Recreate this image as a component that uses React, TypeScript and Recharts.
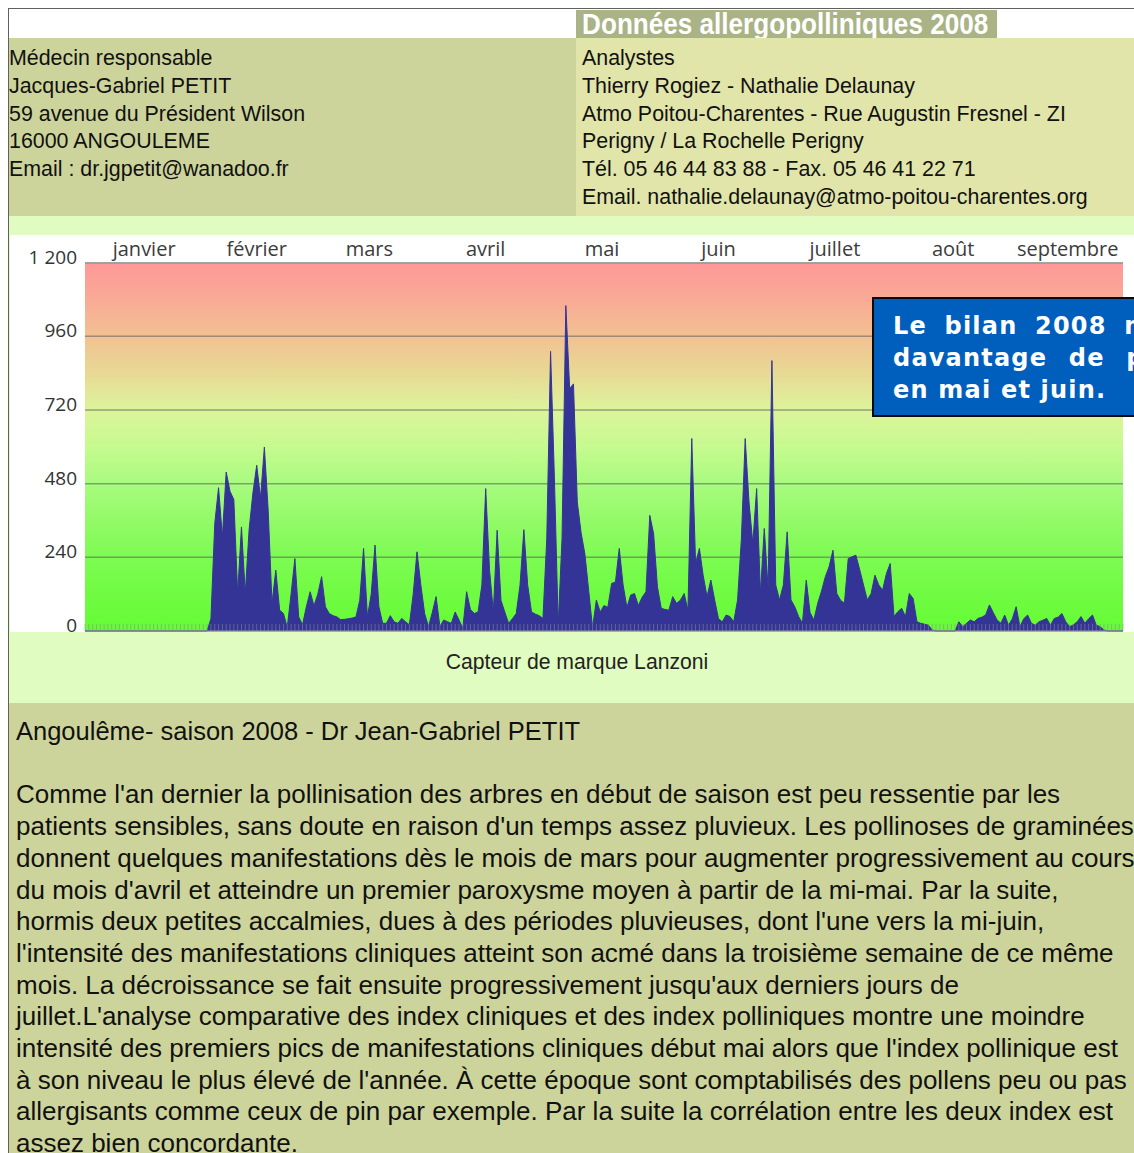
import React from "react";
import { AreaChart, Area, XAxis, YAxis, CartesianGrid, ReferenceArea, ReferenceLine } from "recharts";

// daily pollen index, Jan 1 -> Sep 30 (one array per month)
const jan = [0, 0, 0, 0, 0, 0, 0, 0, 0, 0, 0, 0, 0, 0, 0, 0, 0, 0, 0, 0, 0, 0, 0, 0, 0, 0, 0, 0, 0, 0, 0];
const feb = [0, 0, 40, 350, 467, 307, 518, 455, 428, 122, 339, 122, 330, 450, 540, 433, 599, 393, 90, 198, 68, 57, 12, 120, 236, 46, 20, 79];
const mar = [128, 82, 120, 177, 79, 57, 50, 46, 37, 38, 40, 42, 46, 100, 269, 46, 120, 280, 80, 25, 25, 50, 30, 25, 41, 30, 20, 120, 258, 150, 57];
const apr = [14, 60, 112, 14, 36, 30, 25, 62, 36, 8, 128, 70, 57, 62, 150, 464, 200, 62, 328, 100, 62, 25, 40, 57, 150, 330, 150, 62, 55, 50];
const may = [41, 300, 911, 500, 20, 300, 1060, 790, 805, 420, 320, 250, 130, 10, 101, 62, 83, 77, 155, 160, 269, 150, 77, 117, 122, 83, 110, 128, 377, 317, 144];
const jun = [74, 70, 68, 112, 90, 100, 122, 68, 627, 220, 269, 180, 112, 166, 101, 40, 30, 52, 47, 30, 101, 300, 627, 420, 285, 464, 122, 334, 139, 881];
const jul = [150, 101, 150, 323, 101, 79, 47, 25, 166, 60, 36, 90, 130, 177, 210, 263, 122, 100, 90, 236, 242, 247, 200, 150, 101, 122, 182, 150, 133, 187, 220];
const aug = [47, 63, 74, 47, 122, 106, 30, 25, 22, 19, 3, 0, 0, 0, 0, 0, 0, 30, 14, 25, 36, 30, 41, 45, 52, 85, 60, 36, 25, 52, 19];
const sep = [40, 79, 14, 40, 52, 25, 19, 30, 35, 41, 19, 41, 45, 57, 30, 14, 20, 30, 47, 25, 40, 52, 19, 14, 3, 0, 0, 0, 0, 0];

const months = ["janvier", "février", "mars", "avril", "mai", "juin", "juillet", "août", "septembre"];
const yTicks = [0, 240, 480, 720, 960, 1200];
const Y_TOP = 1290;
const COMB = 23; // height of the daily marks at the baseline, in index units

const monthly = [jan, feb, mar, apr, may, jun, jul, aug, sep];
const monthStarts: number[] = [];
let acc = 0;
monthly.forEach((m) => {
  monthStarts.push(acc);
  acc += m.length;
});
const lastDay = acc - 1;
const data = monthly.flat().map((v, i) => ({ day: i, v }));
const days = data.map((d) => d.day);

const infoLeft = [
  "Médecin responsable",
  "Jacques-Gabriel PETIT",
  "59 avenue du Président Wilson",
  "16000 ANGOULEME",
  "Email : dr.jgpetit@wanadoo.fr",
];
const infoRight = [
  "Analystes",
  "Thierry Rogiez - Nathalie Delaunay",
  "Atmo Poitou-Charentes - Rue Augustin Fresnel - ZI",
  "Perigny / La Rochelle Perigny",
  "Tél. 05 46 44 83 88 - Fax. 05 46 41 22 71",
  "Email. nathalie.delaunay@atmo-poitou-charentes.org",
];
const calloutLines = ["Le bilan 2008 montre", "davantage de pollens", "en mai et juin."];
const bodyTitle = "Angoulême- saison 2008 - Dr Jean-Gabriel PETIT";
const bodyLines = [
  "Comme l'an dernier la pollinisation des arbres en début de saison est peu ressentie par les",
  "patients sensibles, sans doute en raison d'un temps assez pluvieux. Les pollinoses de graminées",
  "donnent quelques manifestations dès le mois de mars pour augmenter progressivement au cours",
  "du mois d'avril et atteindre un premier paroxysme moyen à partir de la mi-mai. Par la suite,",
  "hormis deux petites accalmies, dues à des périodes pluvieuses, dont l'une vers la mi-juin,",
  "l'intensité des manifestations cliniques atteint son acmé dans la troisième semaine de ce même",
  "mois. La décroissance se fait ensuite progressivement jusqu'aux derniers jours de",
  "juillet.L'analyse comparative des index cliniques et des index polliniques montre une moindre",
  "intensité des premiers pics de manifestations cliniques début mai alors que l'index pollinique est",
  "à son niveau le plus élevé de l'année. À cette époque sont comptabilisés des pollens peu ou pas",
  "allergisants comme ceux de pin par exemple. Par la suite la corrélation entre les deux index est",
  "assez bien concordante.",
];

const off = (v: number) => (Y_TOP - v) / Y_TOP;
const sans = "'Liberation Sans', Arial, sans-serif";

const YTick = ({ x, y, payload }: any) => (
  <text x={x} y={y - 6} textAnchor="end" dominantBaseline="central" fill="#333" fontSize={19} fontFamily="'Open Sans', sans-serif">
    {payload.value === 1200 ? "1\u00a0200" : payload.value}
  </text>
);

function PollenChart() {
  return (
    <AreaChart width={1115} height={397} data={data} margin={{ top: 0, right: 2, bottom: 0, left: 0 }}>
      <defs>
        <linearGradient id="risk" x1="0" y1="0" x2="0" y2="1">
          <stop offset={0} stopColor="#ffffff" />
          <stop offset={off(1200)} stopColor="#ffffff" />
          <stop offset={off(1200)} stopColor="#ff9898" />
          <stop offset={off(1080)} stopColor="#f9aa95" />
          <stop offset={off(960)} stopColor="#f2c192" />
          <stop offset={off(840)} stopColor="#e8d994" />
          <stop offset={off(720)} stopColor="#dcf49b" />
          <stop offset={off(600)} stopColor="#c6fa8f" />
          <stop offset={off(480)} stopColor="#a8fb7e" />
          <stop offset={off(360)} stopColor="#93fa68" />
          <stop offset={off(240)} stopColor="#7dfb52" />
          <stop offset={off(120)} stopColor="#70fb42" />
          <stop offset={1} stopColor="#65fc35" />
        </linearGradient>
      </defs>
      <CartesianGrid fill="url(#risk)" fillOpacity={1} stroke="none" horizontal={false} vertical={false} />
      <CartesianGrid fill="none" stroke="#666" strokeOpacity={0.6} strokeWidth={1.5} syncWithTicks />
      <YAxis type="number" domain={[0, Y_TOP]} ticks={yTicks} width={75} axisLine={false} tickLine={false} tick={<YTick />} interval={0} />
      {months.map((m, i) => (
        <ReferenceArea
          key={m}
          x1={monthStarts[i]}
          x2={i < months.length - 1 ? monthStarts[i + 1] : lastDay}
          y1={1200}
          y2={Y_TOP}
          fill="none"
          fillOpacity={0}
          stroke="none"
          strokeOpacity={0}
          label={{ value: m, position: "center", fill: "#3c3c3c", fontSize: 20, fontFamily: "'Open Sans', sans-serif" }}
        />
      ))}
      <Area dataKey="v" type="linear" fill="#343496" fillOpacity={1} stroke="#343496" strokeWidth={1} dot={false} activeDot={false} isAnimationActive={false} />
      {days.map((d) => (
        <ReferenceLine key={d} segment={[{ x: d, y: 0 }, { x: d, y: COMB }]} stroke="#8a8a8a" strokeOpacity={0.55} strokeWidth={1} ifOverflow="visible" />
      ))}
      <XAxis dataKey="day" type="number" domain={[0, lastDay]} ticks={monthStarts.slice(1)} interval={0} tick={false} tickLine={false} axisLine={{ stroke: "#9a9a9a" }} height={1} />
    </AreaChart>
  );
}

export default function App() {
  const abs = (left: number, top: number, width: number, height: number, bg?: string): React.CSSProperties => ({
    position: "absolute",
    left: left - 8,
    top: top - 8,
    width,
    height,
    background: bg,
  });
  return (
    <div style={{ position: "fixed", left: 8, top: 8, width: 1126, height: 1145, overflow: "hidden", fontFamily: sans, color: "#111" }}>
      <style>{`html{overflow:hidden} .recharts-surface{overflow:visible}`}</style>
      <div style={abs(8, 8, 1140, 1, "#606060")} />
      <div style={abs(8, 8, 1, 1160, "#606060")} />
      <div style={{ ...abs(576, 10, 421, 28, "#a9b386"), overflow: "hidden" }}>
        <div style={{ color: "#fff", fontWeight: "bold", fontSize: 30, lineHeight: "28px", paddingLeft: 7, whiteSpace: "nowrap", transform: "scaleX(0.87)", transformOrigin: "0 0" }}>
          Données allergopolliniques 2008
        </div>
      </div>
      <div style={{ ...abs(9, 38, 567, 178, "#cdd49b"), paddingTop: 7, boxSizing: "border-box", fontSize: 21.4, lineHeight: "27.75px" }}>
        {infoLeft.map((t) => (
          <div key={t} style={{ whiteSpace: "nowrap" }}>{t}</div>
        ))}
      </div>
      <div style={{ ...abs(576, 38, 580, 178, "#e1e5a9"), paddingTop: 7, paddingLeft: 6, boxSizing: "border-box", fontSize: 21.4, lineHeight: "27.75px" }}>
        {infoRight.map((t) => (
          <div key={t} style={{ whiteSpace: "nowrap" }}>{t}</div>
        ))}
      </div>
      <div style={abs(9, 216, 1150, 487, "#e0fcc0")} />
      <div style={abs(10, 235, 1150, 397, "#ffffff")}>
        <PollenChart />
      </div>
      <div style={{ ...abs(9, 632, 1136, 71), textAlign: "center", fontSize: 21.2, lineHeight: "60px", color: "#222" }}>
        Capteur de marque Lanzoni
      </div>
      <div style={{ ...abs(9, 703, 1150, 460, "#cdd49b"), paddingTop: 13, paddingLeft: 7, boxSizing: "border-box", fontSize: 26, lineHeight: "31.7px" }}>
        <div style={{ whiteSpace: "nowrap", fontSize: 25.5 }}>{bodyTitle}</div>
        <div style={{ height: 31.7 }} />
        {bodyLines.map((t) => (
          <div key={t} style={{ whiteSpace: "nowrap" }}>{t}</div>
        ))}
      </div>
      <div style={{ ...abs(872, 297, 320, 120, "#005ebd"), border: "2px solid #0a0a0a", boxSizing: "border-box", paddingTop: 11, paddingLeft: 19, color: "#fff", fontWeight: "bold", fontSize: 24, lineHeight: "32px", letterSpacing: 1.2, fontFamily: "'DejaVu Sans', Verdana, sans-serif" }}>
        {calloutLines.map((t, i) => (
          <div key={t} style={{ whiteSpace: "nowrap", wordSpacing: i === 0 ? 8 : i === 1 ? 12 : 0 }}>{t}</div>
        ))}
      </div>
    </div>
  );
}
